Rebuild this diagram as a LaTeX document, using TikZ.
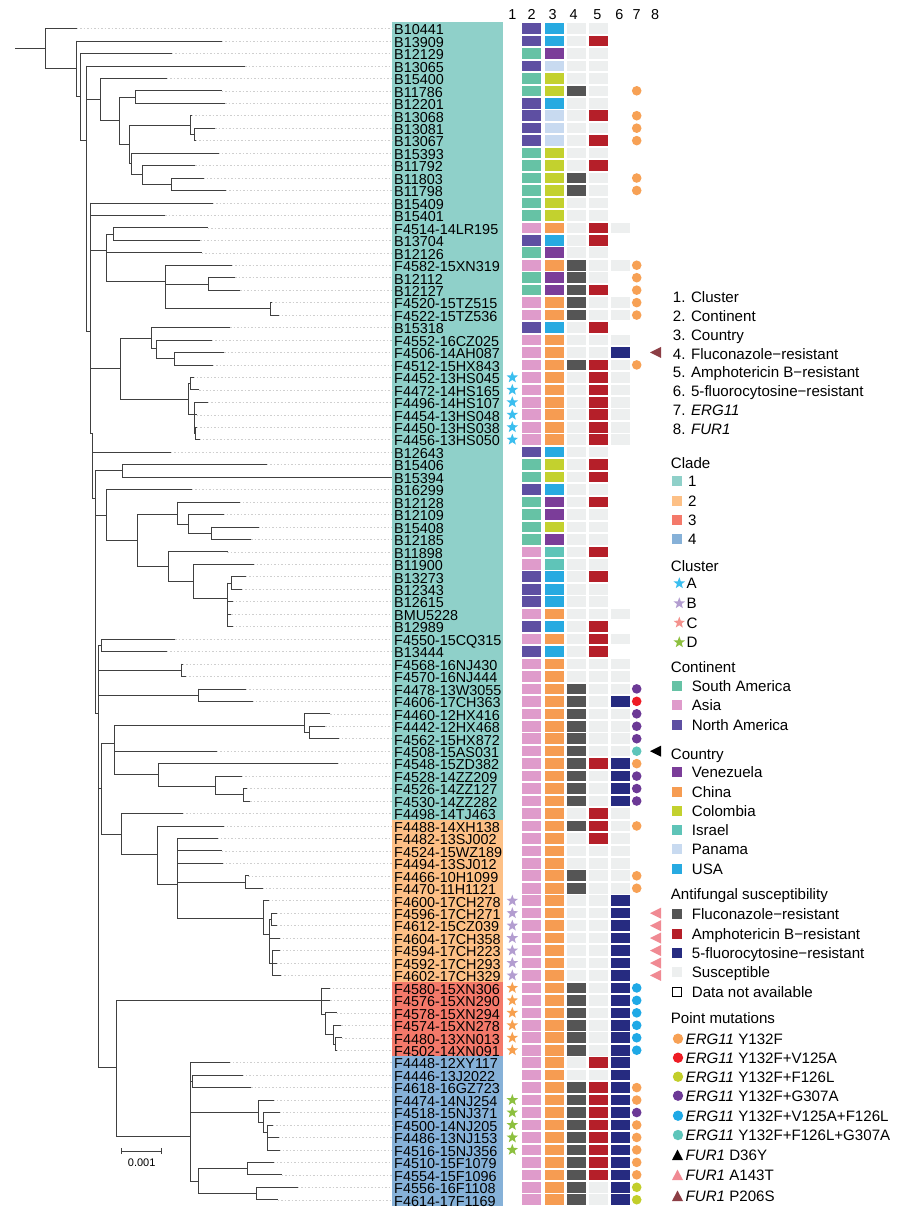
\documentclass[tikz,border=0pt]{standalone}
\usepackage{fontspec}
\setmainfont{Liberation Sans}
\usetikzlibrary{shapes.geometric}
\definecolor{clA}{HTML}{8FD0C9}
\definecolor{clB}{HTML}{FDC086}
\definecolor{clC}{HTML}{F4796A}
\definecolor{clD}{HTML}{86B1D8}
\definecolor{cNA}{HTML}{5E4FA2}
\definecolor{cSA}{HTML}{66C2A5}
\definecolor{cAS}{HTML}{DF9BCB}
\definecolor{kVEN}{HTML}{7B3D99}
\definecolor{kCHN}{HTML}{F69C52}
\definecolor{kCOL}{HTML}{C3D12E}
\definecolor{kISR}{HTML}{5FC4B8}
\definecolor{kPAN}{HTML}{C8DAF0}
\definecolor{kUSA}{HTML}{27AAE1}
\definecolor{fF}{HTML}{555555}
\definecolor{fA}{HTML}{B51F29}
\definecolor{fC}{HTML}{262B80}
\definecolor{fS}{HTML}{EDEFEF}
\definecolor{mO}{HTML}{F7A155}
\definecolor{mR}{HTML}{EE1C25}
\definecolor{mY}{HTML}{C2CE2A}
\definecolor{mP}{HTML}{6C3996}
\definecolor{mB}{HTML}{1FA9E6}
\definecolor{mT}{HTML}{5EC5BA}
\definecolor{triK}{HTML}{000000}
\definecolor{triP}{HTML}{F08A93}
\definecolor{triB}{HTML}{8C3E45}
\definecolor{stA}{HTML}{3BBEEF}
\definecolor{stB}{HTML}{B39DD0}
\definecolor{stC}{HTML}{F7A04F}
\definecolor{stCl}{HTML}{F4928E}
\definecolor{stD}{HTML}{8DC03F}
\definecolor{treecol}{HTML}{404040}
\definecolor{leadcol}{HTML}{CFCFCF}
\pgfmathdeclarefunction{R}{1}{\pgfmathparse{16.04+12.46*#1}}
\newcommand\TrNode[5]{\draw[treeline] (#1,{R(#3)}) -- (#2,{R(#3)}); \draw[treeline] (#2,{R(#4)}) -- (#2,{R(#5)});}
\newcommand\TrTip[3]{\draw[leaderline] (#2,{R(#3)}) -- (392,{R(#3)}); \draw[treeline] (#1,{R(#3)}) -- (#2,{R(#3)});}
\begin{document}
\begin{tikzpicture}[x=1pt,y=-1pt,
  treeline/.style={draw=treecol, line width=0.75pt, line cap=rect},
  leaderline/.style={draw=leadcol, line width=0.5pt, dash pattern=on 1.5pt off 2pt},
  labtext/.style={inner sep=0pt, font=\fontsize{14.4}{16}\selectfont},
  legtext/.style={inner sep=0pt, font=\fontsize{15.1}{17}\selectfont},
  starmark/.style={star, star points=5, star point ratio=2.4, minimum size=12pt, inner sep=0pt, draw=none}]
\useasboundingbox (0,0) rectangle (900,1223);
\fill[white] (0,0) rectangle (900,1223);
% clade backgrounds
\fill[clA] (392,{R(0.5)}) rectangle (503.3,{R(64.5)});
\fill[clB] (392,{R(64.5)}) rectangle (503.3,{R(77.5)});
\fill[clC] (392,{R(77.5)}) rectangle (503.3,{R(83.5)});
\fill[clD] (392,{R(83.5)}) rectangle (503.3,{R(95.5)});
% ---------------- tree ----------------
\draw[treeline] (15,{R(2.6)}) -- (45.3,{R(2.6)});
\draw[treeline] (45.3,{R(1)}) -- (45.3,{R(4.2)});
\TrTip{45.3}{76.7}{1}
\TrNode{45.3}{76.7}{4.2}{2}{6.45}
\TrTip{76.7}{221.7}{2}
\TrNode{76.7}{80}{6.45}{3}{10}
\TrTip{80}{171.7}{3}
\TrNode{80}{86}{10}{4}{25.3}
\TrTip{86}{245}{4}
\TrNode{86}{100.7}{6.7}{5}{8.4}
\TrTip{100.7}{166.7}{5}
\TrNode{100.7}{119.3}{8.4}{6.5}{10.3}
\TrNode{119.3}{135}{6.5}{6}{7}
\TrTip{135}{221.7}{6}
\TrTip{135}{225}{7}
\TrNode{119.3}{129.3}{10.3}{8.8}{11.8}
\TrNode{129.3}{190}{8.8}{8}{9.5}
\TrTip{190}{191.7}{8}
\TrNode{190}{194}{9.5}{9}{10}
\TrTip{194}{215}{9}
\TrTip{194}{195.5}{10}
\TrNode{129.3}{131.7}{11.8}{11}{12.7}
\TrTip{131.7}{218.3}{11}
\TrNode{131.7}{142.3}{12.7}{12}{13.5}
\TrTip{142.3}{195}{12}
\TrNode{142.3}{171}{13.5}{13}{14}
\TrTip{171}{203.3}{13}
\TrTip{171}{225.7}{14}
% big clade 1 backbone
\TrNode{86}{90}{25.3}{15}{33.5}
\TrTip{90}{212.7}{15}
\TrTip{90}{165}{16}
\TrNode{90}{106}{18.8}{17.5}{21.3}
\TrNode{106}{113.3}{17.5}{17}{18}
\TrTip{113.3}{207.7}{17}
\TrTip{113.3}{200}{18}
\TrTip{106}{201.7}{19}
\TrNode{106}{165}{21.3}{20}{23.5}
\TrTip{165}{231.7}{20}
\TrNode{165}{208.7}{21.5}{21}{22}
\TrTip{208.7}{235}{21}
\TrTip{208.7}{240}{22}
\TrNode{165}{270}{23.5}{23}{24}
\TrTip{270}{271.7}{23}
\TrTip{270}{278.3}{24}
\TrNode{90}{120.7}{28.3}{25.9}{30.8}
\TrNode{120.7}{151.7}{25.9}{25}{26.7}
\TrTip{151.7}{230}{25}
\TrNode{151.7}{156}{26.7}{26}{27.5}
\TrTip{156}{211.7}{26}
\TrNode{156}{174.3}{27.5}{27}{28}
\TrTip{174.3}{224}{27}
\TrTip{174.3}{212.7}{28}
\TrNode{120.7}{188.3}{30.8}{29.5}{32}
\TrNode{188.3}{190.7}{29.5}{29}{30}
\TrTip{190.7}{193.3}{29}
\TrTip{190.7}{199}{30}
\TrNode{188.3}{194.3}{32}{31}{33.5}
\TrTip{194.3}{207.7}{31}
\TrTip{194.3}{196.7}{32}
\TrNode{194.3}{195.7}{33.5}{33}{34}
\TrTip{195.7}{196.7}{33}
\TrTip{195.7}{199.3}{34}
\TrNode{90}{92.3}{33.5}{33.5}{38.7}
\TrTip{92.3}{170.7}{35}
\TrNode{92.3}{95.7}{38.7}{36.5}{56}
\TrNode{95.7}{122.3}{36.5}{36}{37}
\TrTip{122.3}{266.7}{36}
\TrTip{122.3}{391.7}{37}
\TrNode{95.7}{106}{40.1}{38}{42.1}
\TrTip{106}{191.7}{38}
\TrNode{106}{137.3}{42.1}{40}{44.2}
\TrNode{137.3}{177.3}{40}{39}{40.8}
\TrTip{177.3}{239.3}{39}
\TrNode{177.3}{188.3}{40.8}{40}{41.5}
\TrTip{188.3}{223.3}{40}
\TrNode{188.3}{211}{41.5}{41}{42}
\TrTip{211}{258.3}{41}
\TrTip{211}{251}{42}
\TrNode{137.3}{168.7}{44.2}{43}{45.4}
\TrTip{168.7}{227.3}{43}
\TrNode{168.7}{193.3}{45.4}{44}{46.7}
\TrTip{193.3}{253.3}{44}
\TrNode{193.3}{227.7}{46.7}{45.5}{49}
\TrNode{227.7}{231}{45.5}{45}{46}
\TrTip{231}{245.7}{45}
\TrTip{231}{241.7}{46}
\TrTip{227.7}{232.3}{47}
\TrTip{227.7}{231}{48}
\TrTip{227.7}{232.3}{49}
\TrNode{95.7}{98.3}{56}{50.5}{84.4}
\TrNode{98.3}{101.7}{50.5}{50}{51}
\TrTip{101.7}{175}{50}
\TrTip{101.7}{166.7}{51}
\TrNode{98.3}{181}{52.5}{52}{53}
\TrTip{181}{182.7}{52}
\TrTip{181}{185.7}{53}
\TrNode{98.3}{198.3}{54.5}{54}{55}
\TrTip{198.3}{245.7}{54}
\TrTip{198.3}{252.3}{55}
\TrNode{98.3}{101.7}{62}{58.4}{65.7}
\TrNode{101.7}{114}{58.4}{56.9}{60.9}
\TrNode{114}{304}{56.9}{56}{57.5}
\TrTip{304}{330}{56}
\TrNode{304}{309.3}{57.5}{57}{58}
\TrTip{309.3}{325}{57}
\TrTip{309.3}{338.3}{58}
\TrTip{114}{216.7}{59}
\TrNode{114}{158.3}{60.9}{60}{61.8}
\TrTip{158.3}{337.3}{60}
\TrNode{158.3}{215.7}{61.8}{61}{62.5}
\TrTip{215.7}{241.7}{61}
\TrNode{215.7}{243}{62.5}{62}{63}
\TrTip{243}{246.7}{62}
\TrTip{243}{250}{63}
% clade 2
\TrNode{101.7}{121.7}{65.7}{64}{67.3}
\TrTip{121.7}{182.7}{64}
\TrNode{121.7}{157.3}{67.3}{65}{69.7}
\TrTip{157.3}{223.3}{65}
\TrNode{157.3}{177.3}{69.7}{66}{72.4}
\TrTip{177.3}{217.3}{66}
\TrTip{177.3}{221.7}{67}
\TrTip{177.3}{222.3}{68}
\TrNode{177.3}{245}{69.5}{69}{70}
\TrTip{245}{248.3}{69}
\TrTip{245}{262.3}{70}
\TrNode{177.3}{263.3}{72.4}{71}{73.7}
\TrTip{263.3}{268.3}{71}
\TrNode{263.3}{269.3}{73.7}{72.5}{76}
\TrNode{269.3}{271.7}{72.5}{72}{73}
\TrTip{271.7}{276.7}{72}
\TrTip{271.7}{276.7}{73}
\TrTip{269.3}{279.3}{74}
\TrNode{269.3}{272.7}{76}{75}{77}
\TrTip{272.7}{279.3}{75}
\TrTip{272.7}{276.7}{76}
\TrTip{272.7}{280.7}{77}
% clades 3 and 4
\TrNode{98.3}{116.7}{84.4}{79}{89.9}
\TrNode{116.7}{321.7}{79}{78}{80.1}
\TrTip{321.7}{329.3}{78}
\TrTip{321.7}{330}{79}
\TrNode{321.7}{325}{80.1}{80}{81.7}
\TrTip{325}{336.7}{80}
\TrNode{325}{333.3}{81.7}{81}{82.5}
\TrTip{333.3}{341}{81}
\TrNode{333.3}{335}{82.5}{82}{83}
\TrTip{335}{341.7}{82}
\TrTip{335}{336.5}{83}
\TrNode{116.7}{190.7}{89.9}{84}{93.5}
\TrTip{190.7}{229.3}{84}
\TrNode{190.7}{192.7}{85.5}{85}{86}
\TrTip{192.7}{242.3}{85}
\TrTip{192.7}{251}{86}
\TrNode{190.7}{258.3}{88}{87}{88.8}
\TrTip{258.3}{273.3}{87}
\TrNode{258.3}{263.3}{88.8}{88}{89.6}
\TrTip{263.3}{279.3}{88}
\TrNode{263.3}{267.3}{89.6}{89}{91}
\TrTip{267.3}{272.7}{89}
\TrTip{267.3}{278.3}{90}
\TrTip{267.3}{279.3}{91}
\TrNode{190.7}{198.3}{93.5}{92.5}{94.5}
\TrNode{198.3}{247.3}{92.5}{92}{93}
\TrTip{247.3}{273.3}{92}
\TrTip{247.3}{281.7}{93}
\TrNode{198.3}{256.7}{94.5}{94}{95}
\TrTip{256.7}{297.7}{94}
\TrTip{256.7}{277.7}{95}
% scale bar
\coordinate (sb1) at (121.7,1151);
\coordinate (sb2) at (161.7,1151);
\draw[treeline, line cap=butt] (sb1) -- (sb2);
\draw[treeline, line cap=butt] ([yshift=-3pt]sb1) -- ([yshift=3pt]sb1);
\draw[treeline, line cap=butt] ([yshift=-3pt]sb2) -- ([yshift=3pt]sb2);
\node[inner sep=0pt, font=\fontsize{11}{12}\selectfont, anchor=base] (sbl) at (141.7,1166) {0.001};
% ---------------- column headers ----------------
\foreach \hx/\hn in {512.3/1,531.7/2,552.7/3,573.5/4,597.3/5,619.3/6,636.7/7,655/8}
  \node[labtext, anchor=base] (H\hn) at (\hx,20) {\hn};
% ---------------- rows ----------------
\foreach \rr/\nm/\ct/\cn/\fa/\fb/\fc/\mm in {
1/B10441/NA/USA/S/S/N/N,
2/B13909/NA/USA/S/A/N/N,
3/B12129/SA/VEN/S/S/N/N,
4/B13065/NA/PAN/S/S/N/N,
5/B15400/SA/COL/S/S/N/N,
6/B11786/SA/COL/F/S/N/O,
7/B12201/NA/USA/S/S/N/N,
8/B13068/NA/PAN/S/A/N/O,
9/B13081/NA/PAN/S/S/N/O,
10/B13067/NA/PAN/S/A/N/O,
11/B15393/SA/COL/S/S/N/N,
12/B11792/SA/COL/S/A/N/N,
13/B11803/SA/COL/F/S/N/O,
14/B11798/SA/COL/F/S/N/O,
15/B15409/SA/COL/S/S/N/N,
16/B15401/SA/COL/S/S/N/N,
17/F4514-14LR195/AS/CHN/S/A/S/N,
18/B13704/NA/USA/S/A/N/N,
19/B12126/SA/VEN/S/S/N/N,
20/F4582-15XN319/AS/CHN/F/S/S/O,
21/B12112/SA/VEN/F/S/N/O,
22/B12127/SA/VEN/F/A/N/O,
23/F4520-15TZ515/AS/CHN/F/S/S/O,
24/F4522-15TZ536/AS/CHN/F/S/S/O,
25/B15318/NA/USA/S/A/N/N,
26/F4552-16CZ025/AS/CHN/S/S/S/N,
27/F4506-14AH087/AS/CHN/S/S/C/N,
28/F4512-15HX843/AS/CHN/F/A/S/O,
29/F4452-13HS045/AS/CHN/S/A/S/N,
30/F4472-14HS165/AS/CHN/S/A/S/N,
31/F4496-14HS107/AS/CHN/S/A/S/N,
32/F4454-13HS048/AS/CHN/S/A/S/N,
33/F4450-13HS038/AS/CHN/S/A/S/N,
34/F4456-13HS050/AS/CHN/S/A/S/N,
35/B12643/NA/USA/S/S/N/N,
36/B15406/SA/COL/S/A/N/N,
37/B15394/SA/COL/S/A/N/N,
38/B16299/NA/USA/S/S/N/N,
39/B12128/SA/VEN/S/A/N/N,
40/B12109/SA/VEN/S/S/N/N,
41/B15408/SA/COL/S/S/N/N,
42/B12185/SA/VEN/S/S/N/N,
43/B11898/AS/ISR/S/A/N/N,
44/B11900/AS/ISR/S/S/N/N,
45/B13273/NA/USA/S/A/N/N,
46/B12343/NA/USA/S/S/N/N,
47/B12615/NA/USA/S/S/N/N,
48/BMU5228/AS/CHN/S/S/S/N,
49/B12989/NA/USA/S/A/N/N,
50/F4550-15CQ315/AS/CHN/S/A/S/N,
51/B13444/NA/USA/S/A/N/N,
52/F4568-16NJ430/AS/CHN/S/S/S/N,
53/F4570-16NJ444/AS/CHN/S/S/S/N,
54/F4478-13W3055/AS/CHN/F/S/S/P,
55/F4606-17CH363/AS/CHN/F/S/C/R,
56/F4460-12HX416/AS/CHN/F/S/S/P,
57/F4442-12HX468/AS/CHN/F/S/S/P,
58/F4562-15HX872/AS/CHN/F/S/S/P,
59/F4508-15AS031/AS/CHN/F/S/S/T,
60/F4548-15ZD382/AS/CHN/F/A/C/O,
61/F4528-14ZZ209/AS/CHN/F/S/C/P,
62/F4526-14ZZ127/AS/CHN/F/S/C/P,
63/F4530-14ZZ282/AS/CHN/F/S/C/P,
64/F4498-14TJ463/AS/CHN/S/A/S/N,
65/F4488-14XH138/AS/CHN/F/A/S/O,
66/F4482-13SJ002/AS/CHN/S/A/S/N,
67/F4524-15WZ189/AS/CHN/S/S/S/N,
68/F4494-13SJ012/AS/CHN/S/S/S/N,
69/F4466-10H1099/AS/CHN/F/S/S/O,
70/F4470-11H1121/AS/CHN/F/S/S/O,
71/F4600-17CH278/AS/CHN/S/S/C/N,
72/F4596-17CH271/AS/CHN/S/S/C/N,
73/F4612-15CZ039/AS/CHN/S/S/C/N,
74/F4604-17CH358/AS/CHN/S/S/C/N,
75/F4594-17CH223/AS/CHN/S/S/C/N,
76/F4592-17CH293/AS/CHN/S/S/C/N,
77/F4602-17CH329/AS/CHN/S/S/C/N,
78/F4580-15XN306/AS/CHN/F/S/C/B,
79/F4576-15XN290/AS/CHN/F/S/C/B,
80/F4578-15XN294/AS/CHN/F/S/C/B,
81/F4574-15XN278/AS/CHN/F/S/C/B,
82/F4480-13XN013/AS/CHN/F/S/C/B,
83/F4502-14XN091/AS/CHN/F/S/C/B,
84/F4448-12XY117/AS/CHN/S/A/C/N,
85/F4446-13J2022/AS/CHN/S/S/C/N,
86/F4618-16GZ723/AS/CHN/F/A/C/O,
87/F4474-14NJ254/AS/CHN/F/A/C/O,
88/F4518-15NJ371/AS/CHN/F/A/C/P,
89/F4500-14NJ205/AS/CHN/F/A/C/O,
90/F4486-13NJ153/AS/CHN/F/A/C/O,
91/F4516-15NJ356/AS/CHN/F/A/C/O,
92/F4510-15F1079/AS/CHN/F/A/C/O,
93/F4554-15F1096/AS/CHN/F/A/C/O,
94/F4556-16F1108/AS/CHN/F/S/C/Y,
95/F4614-17F1169/AS/CHN/F/S/C/Y}{
  \node[labtext, anchor=base west] (L\rr) at (394,{R(\rr)+6.3}) {\nm};
  \fill[c\ct] (522.3,{R(\rr)-5.3}) rectangle (541.3,{R(\rr)+5.3});
  \fill[k\cn] (544.5,{R(\rr)-5.3}) rectangle (563.5,{R(\rr)+5.3});
  \fill[f\fa] (566.7,{R(\rr)-5.3}) rectangle (585.7,{R(\rr)+5.3});
  \fill[f\fb] (588.9,{R(\rr)-5.3}) rectangle (607.9,{R(\rr)+5.3});
  \if\fc N\else\fill[f\fc] (611.1,{R(\rr)-5.3}) rectangle (630.1,{R(\rr)+5.3});\fi
  \if\mm N\else\fill[m\mm] (636.7,{R(\rr)}) circle (4.8);\fi
}
% cluster stars
\foreach \rr in {29,...,34} \node[starmark, fill=stA] (SA\rr) at (512.3,{R(\rr)}) {};
\foreach \rr in {71,...,77} \node[starmark, fill=stB] (SB\rr) at (512.3,{R(\rr)}) {};
\foreach \rr in {78,...,83} \node[starmark, fill=stC] (SC\rr) at (512.3,{R(\rr)}) {};
\foreach \rr in {87,...,91} \node[starmark, fill=stD] (SD\rr) at (512.3,{R(\rr)}) {};
% FUR1 triangles (column 8)
\foreach \rr/\tc in {27/triB,59/triK,72/triP,73/triP,74/triP,75/triP,76/triP,77/triP}
  \fill[\tc] (650,{R(\rr)}) -- (661,{R(\rr)-5.5}) -- (661,{R(\rr)+5.5}) -- cycle;
% ---------------- legend ----------------
\foreach \yy/\tx in {296.7/1. Cluster,315.7/2. Continent,335/3. Country,354/4. Fluconazole−resistant,372.3/5. Amphotericin B−resistant,391/6. 5-fluorocytosine−resistant,410.3/{7. \textit{ERG11}},429.3/{8. \textit{FUR1}}}
  \node[legtext, anchor=base west] at (672.7,{\yy+5.3}) {\tx};
\foreach \yy/\tx in {462.7/Clade,565.7/Cluster,666.7/Continent,754/Country,894/Antifungal susceptibility,1017.7/Point mutations}
  \node[legtext, anchor=base west] at (670.7,{\yy+5.3}) {\tx};
\foreach \yy/\cc/\tx in {481/clA/1,500.7/clB/2,520/clC/3,539.3/clD/4}{
  \fill[\cc] (671.7,{\yy-5}) rectangle (681.7,{\yy+5});
  \node[legtext, anchor=base west] at (687.8,{\yy+5.3}) {\tx};}
\foreach \yy/\cc/\tx in {583.3/stA/A,603.3/stB/B,622.7/stCl/C,642.3/stD/D}{
  \node[starmark, fill=\cc] at (679.3,\yy) {};
  \node[legtext, anchor=base west] at (686.5,{\yy+5.3}) {\tx};}
\foreach \yy/\cc/\tx in {686/cSA/South America,705.3/cAS/Asia,725/cNA/North America,
  771.7/kVEN/Venezuela,791.7/kCHN/China,810.7/kCOL/Colombia,830/kISR/Israel,849/kPAN/Panama,869/kUSA/USA,
  914.3/fF/Fluconazole−resistant,934/fA/Amphotericin B−resistant,952.7/fC/5-fluorocytosine−resistant,972.3/fS/Susceptible}{
  \fill[\cc] (671.7,{\yy-5}) rectangle (681.7,{\yy+5});
  \node[legtext, anchor=base west] at (691.7,{\yy+5.3}) {\tx};}
\draw[black, line width=0.6pt] (672,{991.7-4.7}) rectangle (681.4,{991.7+4.7});
\node[legtext, anchor=base west] at (691.7,{991.7+5.3}) {Data not available};
\foreach \yy/\cc/\tx in {1038.7/mO/Y132F,1057.7/mR/Y132F+V125A,1076.7/mY/Y132F+F126L,1095.7/mP/Y132F+G307A,1115.7/mB/Y132F+V125A+F126L,1135/mT/Y132F+F126L+G307A}{
  \fill[\cc] (678,\yy) circle (5.2);
  \node[legtext, anchor=base west] at (685.5,{\yy+5.3}) {\textit{ERG11} \tx};}
\foreach \yy/\cc/\tx in {1155/triK/D36Y,1175/triP/A143T,1196/triB/P206S}{
  \fill[\cc] (672,{\yy+5}) -- (683,{\yy+5}) -- (677.5,{\yy-5.5}) -- cycle;
  \node[legtext, anchor=base west] at (685.5,{\yy+5.3}) {\textit{FUR1} \tx};}
\end{tikzpicture}
\end{document}
